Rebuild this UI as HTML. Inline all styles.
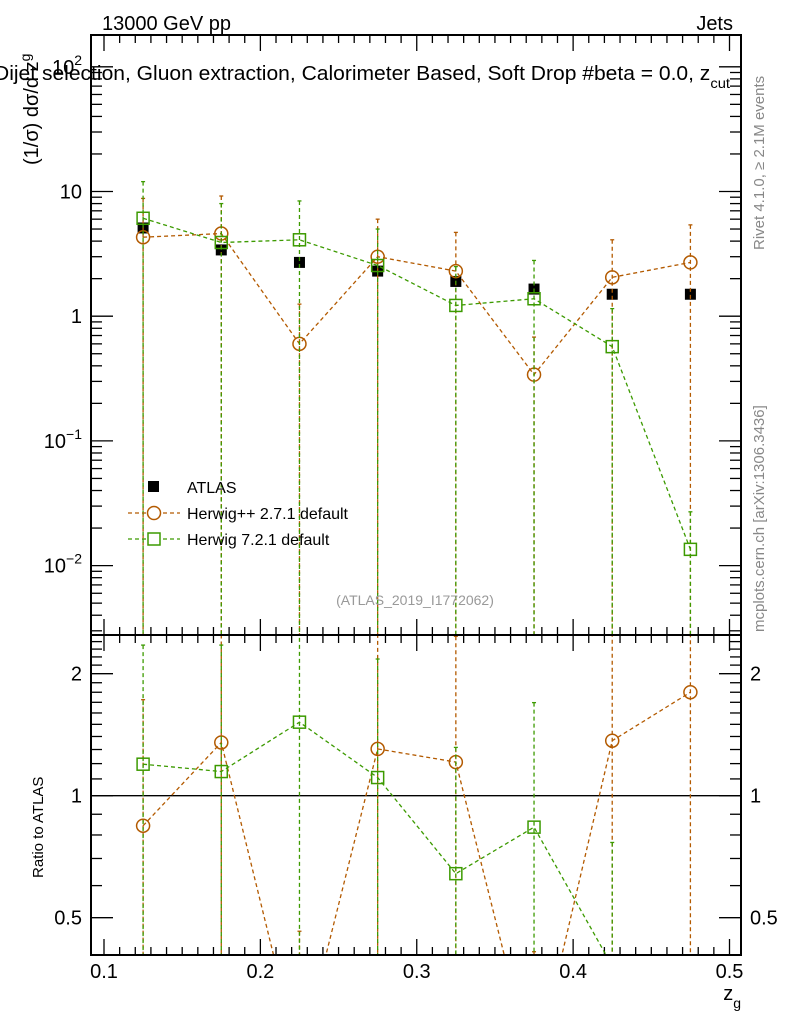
<!DOCTYPE html>
<html><head><meta charset="utf-8"><style>
html,body{margin:0;padding:0;background:#fff;width:786px;height:1024px;overflow:hidden}
svg{display:block}
svg text{font-family:"Liberation Sans",sans-serif}
</style></head><body>
<svg id="c" width="786" height="1024" viewBox="0 0 786 1024" xmlns="http://www.w3.org/2000/svg">
<g id="g"></g>
<text x="102" y="30" font-size="20">13000 GeV pp</text>
<text x="733" y="30" font-size="20" text-anchor="end">Jets</text>
<text x="-6" y="80" font-size="20" textLength="736" lengthAdjust="spacingAndGlyphs">Dijet selection, Gluon extraction, Calorimeter Based, Soft Drop #beta = 0.0, z<tspan font-size="14" dy="8">cut</tspan></text>
<text transform="translate(38,165) rotate(-90)" font-size="20">(1/σ) dσ/d z<tspan font-size="14" dy="-8">g</tspan></text>
<text transform="translate(43,878) rotate(-90)" font-size="15">Ratio to ATLAS</text>
<text x="741" y="1000" font-size="20" text-anchor="end">z<tspan font-size="14" dy="8">g</tspan></text>
<text transform="translate(764,250) rotate(-90)" font-size="15" fill="#888">Rivet 4.1.0, ≥ 2.1M events</text>
<text transform="translate(764,632) rotate(-90)" font-size="15" fill="#888">mcplots.cern.ch [arXiv:1306.3436]</text>
<text x="415" y="605" font-size="14" fill="#999" text-anchor="middle">(ATLAS_2019_I1772062)</text>
</svg>
<script>
const xs=[0.125,0.175,0.225,0.275,0.325,0.375,0.425,0.475];
const atlas=[5.1,3.4,2.7,2.3,1.9,1.65,1.5,1.5];
const hpp=[4.3,4.6,0.6,3.0,2.3,0.34,2.05,2.7];
const hppUp=[8.8,9.2,1.25,6.0,4.7,0.68,4.1,5.4];
const h7=[6.1,3.9,4.1,2.55,1.22,1.38,0.57,0.0135];
const h7Up=[12,8.0,8.4,5.0,2.5,2.8,1.15,0.027];
const xTicks=[0.1,0.2,0.3,0.4,0.5];
const yTicks=[0.01,0.1,1,10,100];
const yTickLabels=["10^-2","10^-1","1","10","10^2"];
const rTicks=[0.5,1,2];
const rTickLabels=["0.5","1","2"];

const NS="http://www.w3.org/2000/svg";
const gRoot=document.getElementById('g');
const L=91,R=741,T=35,MB=635,RB=955;
const X=v=>104+(v-0.1)*1563.75;
const Y=v=>191.5-(Math.log10(v)-1)*124.7;
const RY=v=>795.7-Math.log2(v)*122;
function el(t,a,p){const e=document.createElementNS(NS,t);for(const k in a)e.setAttribute(k,a[k]);(p||gRoot).appendChild(e);return e;}
const ORG="#b35a00",GRN="#3c9a00";
const defs=el('defs',{});
const c1=el('clipPath',{id:'cm'},defs);el('rect',{x:L,y:T,width:R-L,height:MB-T},c1);
const c2=el('clipPath',{id:'cr'},defs);el('rect',{x:L,y:MB,width:R-L,height:RB-MB},c2);
for(let i=0;i<=41;i++){const v=0.09+i*0.01;const x=X(v);if(x<L||x>R)continue;const maj=Math.abs(v*10-Math.round(v*10))<1e-6;const len=maj?16:8;
 for(const [yb,yt] of [[MB,T],[RB,MB]]){
  const t1=el('line',{x1:x,x2:x,y1:yb,y2:yb-len,stroke:'#000','stroke-width':1.3});
  
  const t2=el('line',{x1:x,x2:x,y1:yt,y2:yt+len,stroke:'#000','stroke-width':1.3});
  }}
xTicks.forEach(v=>{const t=el('text',{x:X(v),y:978,'font-size':20,'text-anchor':'middle'});t.textContent=String(v);
 });
for(let d=-3;d<=2;d++)for(let m=1;m<=9;m++){const v=m*Math.pow(10,d);const y=Y(v);if(y<T||y>MB)continue;const len=m==1?22:11;
 for(const [x0,dir] of [[L,1],[R,-1]]){const t=el('line',{x1:x0,x2:x0+dir*len,y1:y,y2:y,stroke:'#000','stroke-width':1.3});
 }}
yTicks.forEach((v,i)=>{const y=Y(v);const s=yTickLabels[i];const t=el('text',{x:82,y:y+7,'font-size':20,'text-anchor':'end'});
 if(s.includes('^')){const parts=s.split('^');t.textContent=parts[0];const ts=el('tspan',{'font-size':14,dy:-9},t);ts.textContent=parts[1].replace('-','−');}else t.textContent=s;
 });
const rmin=[0.4,0.5,0.6,0.7,0.8,0.9,1,1.1,1.2,1.3,1.4,1.5,1.6,1.7,1.8,1.9,2,2.1,2.2,2.3,2.4,2.5];
rmin.forEach(v=>{const y=RY(v);if(y<MB||y>RB)return;const maj=rTicks.includes(v);const len=maj?22:11;
 for(const [x0,dir] of [[L,1],[R,-1]]){const t=el('line',{x1:x0,x2:x0+dir*len,y1:y,y2:y,stroke:'#000','stroke-width':1.3});
 }});
rTicks.forEach((v,i)=>{for(const [x,a] of [[82,'end'],[750,'start']]){const t=el('text',{x:x,y:RY(v)+7,'font-size':20,'text-anchor':a});t.textContent=rTickLabels[i];
 }});
const one=el('line',{x1:L,x2:R,y1:RY(1),y2:RY(1),stroke:'#000','stroke-width':1.3});

function series(vals,up,col,marker,name){
 const gm=el('g',{'clip-path':'url(#cm)'});
 const gr=el('g',{'clip-path':'url(#cr)'});
 const sets=[[gm,Y,vals,up,MB],[gr,RY,vals.map((v,i)=>v/atlas[i]),up.map((v,i)=>v/atlas[i]),RB]];
 sets.forEach(function(s){const grp=s[0],fy=s[1],vv=s[2],uu=s[3],bot=s[4];
  vv.forEach((v,i)=>{const x=X(xs[i]);const e=el('line',{x1:x,x2:x,y1:fy(uu[i]),y2:bot,stroke:col,'stroke-width':1.3,'stroke-dasharray':'4,3'},grp);
   
   const cap=el('line',{x1:x-2,x2:x+2,y1:fy(uu[i]),y2:fy(uu[i]),stroke:col,'stroke-width':1.3},grp);
   });
  const p=el('polyline',{points:vv.map((v,i)=>X(xs[i])+','+fy(v)).join(' '),fill:'none',stroke:col,'stroke-width':1.3,'stroke-dasharray':'4,3'},grp);
  
  vv.forEach((v,i)=>{const x=X(xs[i]),y=fy(v);let mk;
   if(marker=='o')mk=el('circle',{cx:x,cy:y,r:6.5,fill:'none',stroke:col,'stroke-width':1.5},grp);
   else mk=el('rect',{x:x-6,y:y-6,width:12,height:12,fill:'none',stroke:col,'stroke-width':1.5},grp);
   });
 });}
atlas.forEach((v,i)=>{const r=el('rect',{x:X(xs[i])-5.5,y:Y(v)-5.5,width:11,height:11,fill:'#000'});
 });
series(hpp,hppUp,ORG,'o','herwigpp');
series(h7,h7Up,GRN,'s','herwig7');
const f1=el('rect',{x:L,y:T,width:R-L,height:MB-T,fill:'none',stroke:'#000','stroke-width':2});

const f2=el('rect',{x:L,y:MB,width:R-L,height:RB-MB,fill:'none',stroke:'#000','stroke-width':2});

const lg=el('g',{});
const am=el('rect',{x:148,y:481,width:11,height:11,fill:'#000'},lg);
[['ATLAS',487],['Herwig++ 2.7.1 default',513],['Herwig 7.2.1 default',539]].forEach(e=>{const t=el('text',{x:187,y:e[1]+6,'font-size':16},lg);t.textContent=e[0];
 });
[[ORG,513,'o'],[GRN,539,'s']].forEach(e=>{const c=e[0],y=e[1],m=e[2];const l=el('line',{x1:128,x2:180,y1:y,y2:y,stroke:c,'stroke-width':1.3,'stroke-dasharray':'4,3'},lg);
 
 const k=m=='o'?el('circle',{cx:154,cy:y,r:6.5,fill:'#fff',stroke:c,'stroke-width':1.5},lg):el('rect',{x:148,y:y-6,width:12,height:12,fill:'#fff',stroke:c,'stroke-width':1.5},lg);
 });
</script>
</body></html>
